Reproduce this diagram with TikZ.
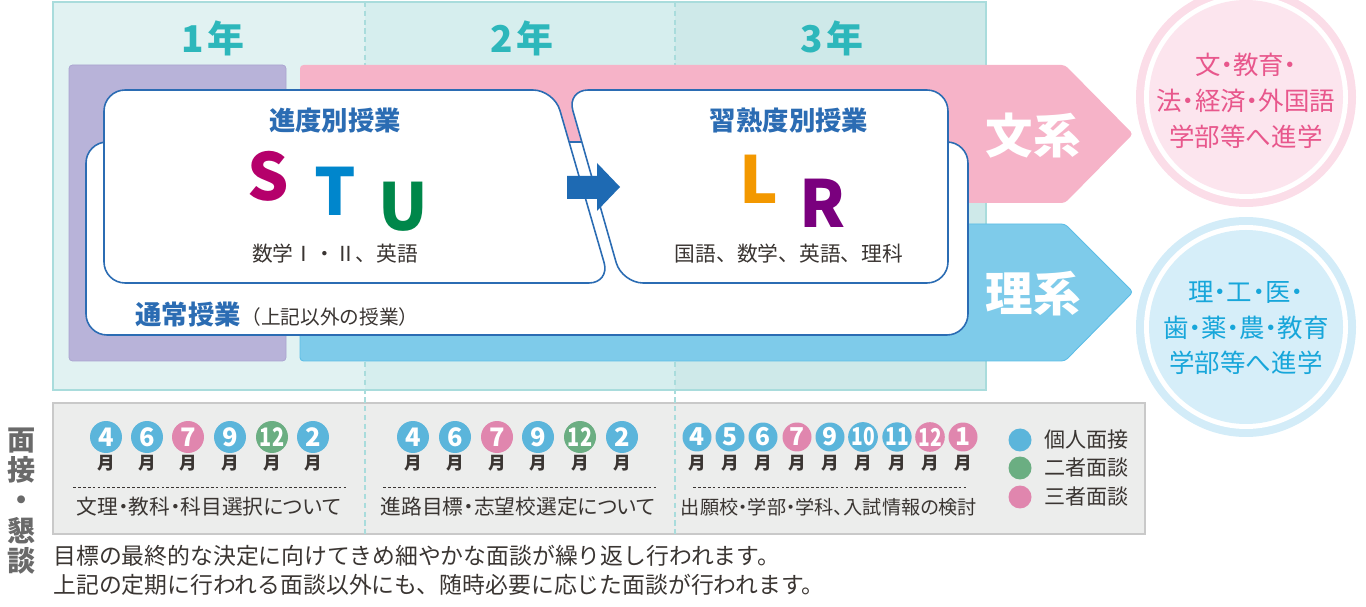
\documentclass[tikz,border=0pt]{standalone}
\usepackage{fontspec}
\setmainfont{Noto Sans CJK JP}
\newfontfamily\jpp{Noto Sans CJK JP}[RawFeature=+palt]
\usetikzlibrary{positioning}

\definecolor{colA}{HTML}{E1F2F2}
\definecolor{colB}{HTML}{D6EEEE}
\definecolor{colC}{HTML}{CEE9E9}
\definecolor{panelline}{HTML}{A9DCDC}
\definecolor{yeartxt}{HTML}{2DB7BB}
\definecolor{lilac}{HTML}{B8B3D9}
\definecolor{lilacline}{HTML}{AAA4D0}
\definecolor{bunpink}{HTML}{F6B3C8}
\definecolor{riblue}{HTML}{7ECBEA}
\definecolor{riline}{HTML}{5CBDE6}
\definecolor{boxblue}{HTML}{2B6CB3}
\definecolor{arrowblue}{HTML}{1E6AB3}
\definecolor{letS}{HTML}{B5006B}
\definecolor{letT}{HTML}{0086CC}
\definecolor{letU}{HTML}{00874A}
\definecolor{letL}{HTML}{F39800}
\definecolor{letR}{HTML}{7A007E}
\definecolor{inktxt}{HTML}{3A3532}
\definecolor{grayfill}{HTML}{ECEDEC}
\definecolor{grayline}{HTML}{C9C9C9}
\definecolor{mblue}{HTML}{5BB5DB}
\definecolor{mpink}{HTML}{E086AE}
\definecolor{mgreen}{HTML}{6BAE82}
\definecolor{pinkring}{HTML}{FBDDE8}
\definecolor{pinkin}{HTML}{FCE5EE}
\definecolor{pinktxt}{HTML}{E8578C}
\definecolor{bluering}{HTML}{D3ECF8}
\definecolor{bluein}{HTML}{D6EEF9}
\definecolor{bluetxt}{HTML}{17A6DA}
\definecolor{sidegray}{HTML}{6A6A6A}

\newcommand\narrownum[1]{\scalebox{.78}[1]{#1}}

\begin{document}
\begin{tikzpicture}[x=0.02cm,y=-0.02cm,
    yearlbl/.style={text=yeartxt,font=\fontsize{21}{21}\selectfont\bfseries},
    headlbl/.style={text=boxblue,font=\fontsize{15}{15}\selectfont\bfseries},
    biglet/.style={font=\fontsize{37}{37}\selectfont\bfseries,inner sep=0pt},
    subjlbl/.style={text=inktxt,font=\fontsize{11.8}{11.8}\selectfont},
    pathlbl/.style={text=white,font=\fontsize{27}{27}\selectfont\bfseries},
    goallbl/.style={align=center,font=\jpp\fontsize{14.5}{20.4}\selectfont},
    mdot/.style={circle,inner sep=0pt,minimum size=0.64cm,text=white,
      font=\fontsize{14.5}{14.5}\selectfont\bfseries},
    mdotsm/.style={mdot,minimum size=0.58cm,font=\fontsize{14}{14}\selectfont\bfseries},
    mon/.style={text=inktxt,font=\fontsize{10}{10}\selectfont\bfseries},
    sepdash/.style={inktxt,line width=0.5pt,dash pattern=on 1.6pt off 1.2pt},
    caplbl/.style={text=inktxt,font=\jpp\fontsize{11.8}{11.8}\selectfont},
    legdot/.style={circle,inner sep=0pt,minimum size=0.46cm},
    leglbl/.style={text=inktxt,font=\fontsize{12}{12}\selectfont},
    yeardash/.style={panelline,line width=0.8pt,dash pattern=on 3pt off 2pt}]
  \useasboundingbox (0,0) rectangle (1366,607);

  % year columns
  \fill[colA] (53,2) rectangle (365,390);
  \fill[colB] (365,2) rectangle (675,390);
  \fill[colC] (675,2) rectangle (986,390);
  \draw[panelline,line width=0.6pt] (53,2) rectangle (986,390);
  \foreach \x/\n in {213/1,522/2,832/3}
    \node[yearlbl] (yr\n) at (\x,38) {{\n}\kern2pt 年};

  % interview panel
  \draw[fill=grayfill,draw=grayline,line width=0.8pt] (53,403) rectangle (1145,534);
  \foreach \x in {365,675}
    \draw[yeardash] (\x,2) -- (\x,534);

  % course bands
  \draw[fill=lilac,draw=lilacline,line width=0.4pt,rounded corners=2pt] (69,65) rectangle (286,361);
  \fill[bunpink,rounded corners=2pt] (300,65) -- (1065,65) -- (1133,134) -- (1065,203) -- (300,203) -- cycle;
  \draw[fill=riblue,draw=riline,line width=0.5pt,rounded corners=2pt] (300,224) -- (1065,224) -- (1133,292) -- (1065,361) -- (300,361) -- cycle;
  \node[pathlbl] (bunkei) at (1033,136) {文系};
  \node[pathlbl] (rikei) at (1033,294) {理系};

  % class boxes
  \draw[fill=white,draw=boxblue,line width=0.9pt,rounded corners=12pt] (86,142) rectangle (968,335);
  \draw[fill=white,draw=boxblue,line width=0.9pt,rounded corners=12pt]
    (300,90) -- (554,90) -- (610,283) -- (104,283) -- (104,90) -- cycle;
  \draw[fill=white,draw=boxblue,line width=0.9pt,rounded corners=12pt]
    (760,90) -- (948,90) -- (948,283) -- (622,283) -- (567,90) -- cycle;
  \fill[arrowblue] (567,176) -- (597,176) -- (597,163) -- (620,187) -- (597,211) -- (597,199) -- (567,199) -- cycle;

  \node[headlbl] (shindo) at (335,121) {進度別授業};
  \node[biglet,text=letS] (S) at (268,176) {S};
  \node[biglet,text=letT] (T) at (335,191) {T};
  \node[biglet,text=letU] (U) at (403,207) {U};
  \node[subjlbl] (subj1) at (335,254) {数学Ⅰ・Ⅱ、英語};

  \node[headlbl] (shujuku) at (789,121) {習熟度別授業};
  \node[biglet,text=letL] (L) at (759,179) {L};
  \node[biglet,text=letR] (R) at (823,203) {R};
  \node[subjlbl] (subj2) at (789,254) {国語、数学、英語、理科};

  \node[headlbl,anchor=west,inner sep=0pt] (tsujo) at (135,314) {通常授業};
  \node[subjlbl,font=\fontsize{11.2}{11.2}\selectfont,anchor=base west,inner sep=0pt] (tsujo2) at (tsujo.base east) {（上記以外の授業）};

  % goals
  \fill[pinkring] (1246,97) circle[radius=110];
  \fill[white] (1246,97) circle[radius=102];
  \fill[pinkin] (1246,97) circle[radius=97];
  \node[goallbl,text=pinktxt] (bungoal) at (1246,101) {文・教育・\\法・経済・外国語\\学部等へ進学};
  \fill[bluering] (1246,327) circle[radius=110];
  \fill[white] (1246,327) circle[radius=102];
  \fill[bluein] (1246,327) circle[radius=97];
  \node[goallbl,text=bluetxt] (rigoal) at (1246,328) {理・工・医・\\歯・薬・農・教育\\学部等へ進学};

  % interview months
  \foreach \x/\n/\c [count=\i] in {106/4/mblue,147/6/mblue,188/7/mpink,230/9/mblue,272/{\narrownum{12}}/mgreen,313/2/mblue}{
    \node[mdot,fill=\c] (a\i) at (\x,437) {\n};
    \node[mon] (am\i) at (\x,463) {月};
  }
  \foreach \x/\n/\c [count=\i] in {413/4/mblue,455/6/mblue,497/7/mpink,538/9/mblue,580/{\narrownum{12}}/mgreen,622/2/mblue}{
    \node[mdot,fill=\c] (b\i) at (\x,437) {\n};
    \node[mon] (bm\i) at (\x,463) {月};
  }
  \foreach \x/\n/\c [count=\i] in {697/4/mblue,730/5/mblue,763/6/mblue,797/7/mpink,830/9/mblue,863/{\narrownum{10}}/mblue,897/{\narrownum{11}}/mblue,930/{\narrownum{12}}/mpink,963/1/mpink}{
    \node[mdotsm,fill=\c] (c\i) at (\x,437) {\n};
    \node[mon] (cm\i) at (\x,463) {月};
  }
  \draw[sepdash] (73,487) -- (347,487);
  \draw[sepdash] (383,487) -- (657,487);
  \draw[sepdash] (693,487) -- (967,487);
  \node[caplbl] (cap1) at (209,507) {文理・教科・科目選択について};
  \node[caplbl] (cap2) at (518,507) {進路目標・志望校選定について};
  \node[caplbl,font=\jpp\fontsize{10.9}{10.9}\selectfont] (cap3) at (829,507) {出願校・学部・学科、入試情報の検討};

  % legend
  \foreach \y/\c/\t [count=\i] in {440/mblue/個人面接,468/mgreen/二者面談,497/mpink/三者面談}{
    \node[legdot,fill=\c] (lg\i) at (1020,\y) {};
    \node[leglbl,right=0.12cm of lg\i] (lgt\i) {\t};
  }

  \node[text=sidegray,align=center,font=\fontsize{16}{17.3}\selectfont\bfseries] (mensetsu) at (22,501) {面\\接\\・\\懇\\談};
  \node[text=inktxt,anchor=west,align=left,inner sep=0pt,font=\fontsize{13}{16.4}\selectfont] (note) at (53,570)
    {目標の最終的な決定に向けてきめ細やかな面談が繰り返し行われます。\\上記の定期に行われる面談以外にも、随時必要に応じた面談が行われます。};
\end{tikzpicture}
\end{document}
